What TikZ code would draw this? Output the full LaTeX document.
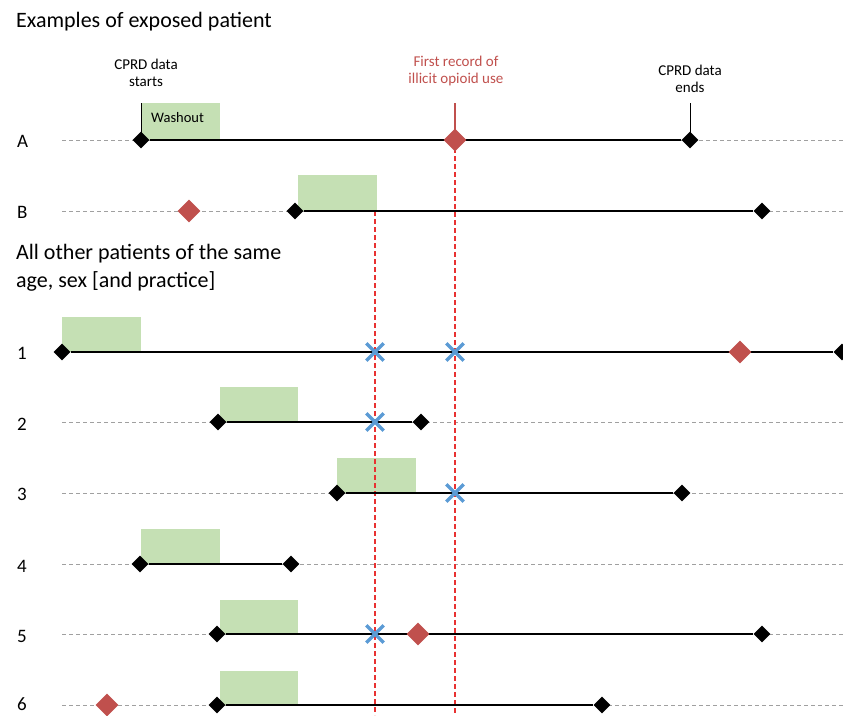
\documentclass[tikz,border=0pt]{standalone}
\usepackage{fontspec}
\setmainfont{Carlito}
\usetikzlibrary{shapes.geometric,shapes.misc}
\definecolor{washgreen}{RGB}{197,224,180}
\definecolor{evred}{RGB}{192,80,77}
\definecolor{guidered}{RGB}{232,50,50}
\definecolor{xblue}{RGB}{91,155,213}
\definecolor{trackgrey}{RGB}{160,160,160}
\tikzset{
  blk/.style={diamond, fill=black, inner sep=0pt, minimum size=17pt},
  evt/.style={diamond, fill=evred, inner sep=0pt, minimum size=23pt},
  hit/.style={cross out, draw=xblue, line width=3.4pt, inner sep=0pt, minimum size=14pt},
  wash/.style={fill=washgreen},
  span/.style={draw=black, line width=1.6pt},
  track/.style={draw=trackgrey, line width=0.8pt, dash pattern=on 4pt off 3pt},
  guideline/.style={color=guidered, line width=1.3pt, dash pattern=on 5pt off 3pt},
  rowlbl/.style={anchor=west, font=\fontsize{19}{19}\selectfont, inner sep=0pt},
  head/.style={anchor=west, font=\fontsize{22}{28}\selectfont, inner sep=0pt, align=left},
  note/.style={font=\fontsize{15}{17}\selectfont, align=center, inner sep=0pt},
}
\begin{document}
\begin{tikzpicture}[x=1pt, y=-1pt]
\useasboundingbox (0,0) rectangle (843,715);

% headings
\node[head] (h1) at (16,22) {Examples of exposed patient};
\node[head] (h2) at (16,268) {All other patients of the same\\age, sex [and practice]};

% row labels
\node[rowlbl] (lA) at (17,141) {A};
\node[rowlbl] (lB) at (17,212) {B};
\node[rowlbl] (l1) at (17,353) {1};
\node[rowlbl] (l2) at (17,424) {2};
\node[rowlbl] (l3) at (17,494) {3};
\node[rowlbl] (l4) at (17,566) {4};
\node[rowlbl] (l5) at (17,636) {5};
\node[rowlbl] (l6) at (17,704) {6};

% dashed background tracks
\foreach \r/\y in {A/140,B/211,2/422,3/493,4/564,5/634,6/705}{
  \coordinate (t\r w) at (62,\y);
  \coordinate (t\r e) at (843,\y);
  \draw[track] (t\r w) -- (t\r e);
}

% washout windows
\fill[wash] (142,103) rectangle (220,140);
\fill[wash] (298,175) rectangle (377,211);
\fill[wash] (62,317) rectangle (141,352);
\fill[wash] (220,387) rectangle (298,422);
\fill[wash] (337,458) rectangle (416,493);
\fill[wash] (141,529) rectangle (220,564);
\fill[wash] (220,600) rectangle (298,634);
\fill[wash] (220,671) rectangle (298,705);
\node[anchor=west, font=\fontsize{14.5}{14.5}\selectfont, inner sep=0pt] (wl) at (151,118) {Washout};

% index-date guides
\coordinate (gB) at (375,211);
\coordinate (gBend) at (375,715);
\coordinate (gA) at (455,140);
\coordinate (gAend) at (455,715);
\draw[guideline] (gB) -- (gBend);
\draw[guideline] (gA) -- (gAend);

% row A
\node[blk] (As) at (141,140) {};
\node[blk] (Ae) at (690,140) {};
\draw[span] (As) -- (Ae);
\coordinate (Ast) at (141,103);
\coordinate (Aet) at (690,103);
\coordinate (Aev) at (455,103);
\draw[black, line width=1pt] (Ast) -- (As.center);
\draw[black, line width=1pt] (Aet) -- (Ae.center);
\draw[evred, line width=1.2pt] (Aev) -- (gA);
\node[evt] (Ax) at (455,140) {};
\node[note] (nS) at (146,73) {CPRD data\\starts};
\node[note, text=evred] (nF) at (456,71) {First record of\\illicit opioid use};
\node[note] (nE) at (690,79) {CPRD data\\ends};

% row B
\node[evt] (Bx) at (189,211) {};
\node[blk] (Bs) at (295,211) {};
\node[blk] (Be) at (762,211) {};
\draw[span] (Bs) -- (Be);

% row 1
\node[blk] (s1) at (62,352) {};
\node[blk] (e1) at (842,352) {};
\draw[span] (s1) -- (e1);
\node[hit] (c1a) at (375,352) {};
\node[hit] (c1b) at (455,352) {};
\node[evt] (x1) at (740,352) {};

% row 2
\node[blk] (s2) at (218,422) {};
\node[blk] (e2) at (421,422) {};
\draw[span] (s2) -- (e2);
\node[hit] (c2) at (375,422) {};

% row 3
\node[blk] (s3) at (337,493) {};
\node[blk] (e3) at (682,493) {};
\draw[span] (s3) -- (e3);
\node[hit] (c3) at (455,493) {};

% row 4
\node[blk] (s4) at (140,564) {};
\node[blk] (e4) at (291,564) {};
\draw[span] (s4) -- (e4);

% row 5
\node[blk] (s5) at (217,634) {};
\node[blk] (e5) at (762,634) {};
\draw[span] (s5) -- (e5);
\node[hit] (c5) at (375,634) {};
\node[evt] (x5) at (418,634) {};

% row 6
\node[evt] (x6) at (107,705) {};
\node[blk] (s6) at (217,705) {};
\node[blk] (e6) at (602,705) {};
\draw[span] (s6) -- (e6);
\end{tikzpicture}
\end{document}
